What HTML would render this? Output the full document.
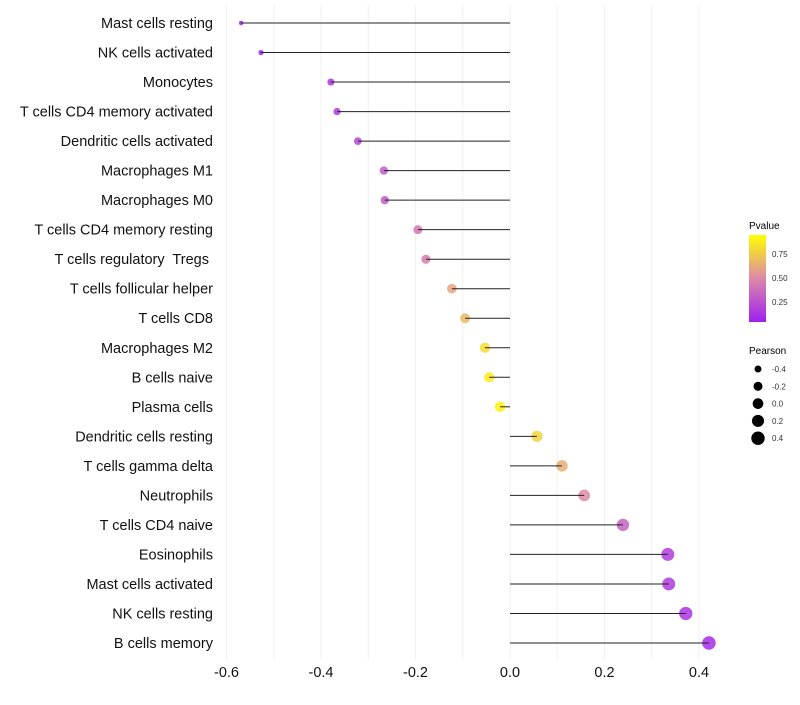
<!DOCTYPE html>
<html><head><meta charset="utf-8"><style>
body{margin:0;background:#fff;font-family:"Liberation Sans",sans-serif;}
svg text{font-family:"Liberation Sans",sans-serif;white-space:pre;}
</style></head><body>
<svg id="chart" width="800" height="700">
<defs><linearGradient id="pg" x1="0" y1="1" x2="0" y2="0">
<stop offset="0" stop-color="#a020f0"/><stop offset="0.5" stop-color="#dc88a8"/><stop offset="1" stop-color="#ffff00"/>
</linearGradient></defs>
<g id="grid"></g><g id="marks"></g><g id="labels"></g><g id="xticks"></g>
<g>
<text x="749" y="229" font-size="10" fill="#000">Pvalue</text>
<rect x="749" y="235" width="17" height="87" fill="url(#pg)"/>
<text x="772" y="257" font-size="8" fill="#333">0.75</text>
<text x="772" y="281" font-size="8" fill="#333">0.50</text>
<text x="772" y="305" font-size="8" fill="#333">0.25</text>
</g>
<g id="sizeleg">
<text x="749" y="354" font-size="10" fill="#000">Pearson</text>
</g>
</svg>
<script>
const cats=["Mast cells resting","NK cells activated","Monocytes","T cells CD4 memory activated","Dendritic cells activated","Macrophages M1","Macrophages M0","T cells CD4 memory resting","T cells regulatory  Tregs ","T cells follicular helper","T cells CD8","Macrophages M2","B cells naive","Plasma cells","Dendritic cells resting","T cells gamma delta","Neutrophils","T cells CD4 naive","Eosinophils","Mast cells activated","NK cells resting","B cells memory"];
const pearson=[-0.569,-0.527,-0.379,-0.366,-0.322,-0.267,-0.265,-0.195,-0.178,-0.123,-0.095,-0.053,-0.044,-0.021,0.057,0.110,0.157,0.239,0.334,0.336,0.372,0.421];
const pvalue=[0.01,0.02,0.10,0.12,0.18,0.28,0.28,0.42,0.45,0.62,0.70,0.86,0.92,0.95,0.82,0.66,0.52,0.32,0.13,0.13,0.09,0.05];
const ticks=[-0.6,-0.4,-0.2,0.0,0.2,0.4];
const legVals=[-0.4,-0.2,0.0,0.2,0.4];
const NS="http://www.w3.org/2000/svg";
const x=v=>510+v*472.5;
const y=i=>23+i*(620/21);
const r=v=>Math.sqrt(Math.max(2,12+(v+0.4)*41.25));
function lerp(a,b,t){return a.map((c,k)=>Math.round(c+(b[k]-c)*t));}
function col(p){const s=[[160,32,240],[220,136,168],[255,255,0]];let c=p<0.5?lerp(s[0],s[1],p/0.5):lerp(s[1],s[2],(p-0.5)/0.5);return `rgb(${c.join(',')})`;}
function mk(tag,at,parent){const e=document.createElementNS(NS,tag);for(const k in at)e.setAttribute(k,at[k]);parent.appendChild(e);return e;}
const grid=document.getElementById('grid'),marks=document.getElementById('marks'),labels=document.getElementById('labels'),xt=document.getElementById('xticks');
for(let v=-0.6;v<=0.45;v+=0.1){const gl=mk('line',{x1:x(v),x2:x(v),y1:5,y2:660,stroke:'#f0f0f0','stroke-width':1},grid);

}
cats.forEach((c,i)=>{
const pt=mk('circle',{cx:x(pearson[i]),cy:y(i),r:r(pearson[i]),fill:col(pvalue[i]),'fill-opacity':0.85},marks);


const ln=mk('line',{x1:x(0),x2:x(pearson[i]),y1:y(i),y2:y(i),stroke:'#222','stroke-width':1},marks);


const t=mk('text',{x:213,y:y(i)+5,'text-anchor':'end','font-size':14.5,fill:'#111'},labels);
t.textContent=c;


});
ticks.forEach(v=>{const t=mk('text',{x:x(v),y:677,'text-anchor':'middle','font-size':14.5,fill:'#111'},xt);
t.textContent=v.toFixed(1);

});
const sl=document.getElementById('sizeleg');
legVals.forEach((v,i)=>{const cy=369+i*17.3;
const c=mk('circle',{cx:758,cy:cy,r:r(v),fill:'#000'},sl);


const t=mk('text',{x:772,y:cy+3,'font-size':8,fill:'#333'},sl);
t.textContent=v.toFixed(1);

});
</script>
</body></html>
